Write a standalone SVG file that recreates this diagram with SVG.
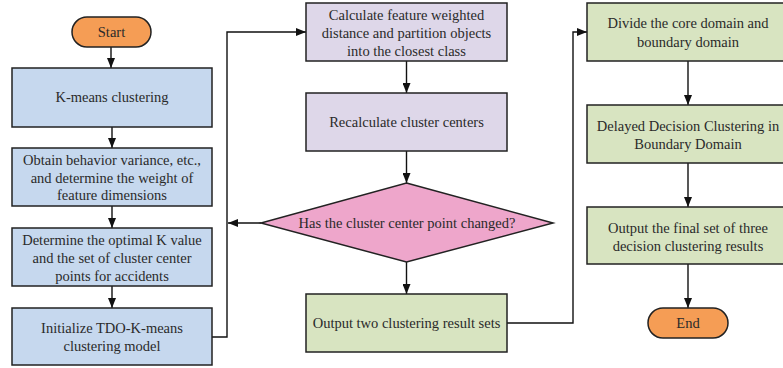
<svg xmlns="http://www.w3.org/2000/svg" width="783" height="368" viewBox="0 0 783 368">
<style>
.box{stroke:#222;stroke-width:1.5}
.blue{fill:#C6D8EE}
.purple{fill:#DED7E9}
.pink{fill:#EEA6CB}
.green{fill:#D8E4C1}
.orange{fill:#F59D55}
.t{font-family:'Liberation Serif','DejaVu Serif',serif;font-size:14.5px;fill:#2a2a2a;text-anchor:middle}
.conn{fill:none;stroke:#111;stroke-width:1.4}
</style>
<defs>
<marker id="arr" markerWidth="10" markerHeight="8" refX="10" refY="4" orient="auto" markerUnits="userSpaceOnUse">
<path d="M0,0 L10,4 L0,8 Z" fill="#111"/>
</marker>
</defs>
<rect width="783" height="368" fill="#fff"/>
<g id="connectors">
<line class="conn" x1="111" y1="47" x2="111" y2="68" marker-end="url(#arr)"/>
<line class="conn" x1="112" y1="127" x2="112" y2="148" marker-end="url(#arr)"/>
<line class="conn" x1="112" y1="206" x2="112" y2="228" marker-end="url(#arr)"/>
<line class="conn" x1="112" y1="286" x2="112" y2="308" marker-end="url(#arr)"/>
<polyline class="conn" points="212,337 227,337 227,32 306,32" marker-end="url(#arr)"/>
<line class="conn" x1="261" y1="223" x2="228" y2="223" marker-end="url(#arr)"/>
<line class="conn" x1="406.5" y1="61" x2="406.5" y2="93" marker-end="url(#arr)"/>
<line class="conn" x1="406.5" y1="151" x2="406.5" y2="183" marker-end="url(#arr)"/>
<line class="conn" x1="406.5" y1="262" x2="406.5" y2="294" marker-end="url(#arr)"/>
<polyline class="conn" points="507,323 573,323 573,32 587,32" marker-end="url(#arr)"/>
<line class="conn" x1="688" y1="61" x2="688" y2="105" marker-end="url(#arr)"/>
<line class="conn" x1="688" y1="163" x2="688" y2="207" marker-end="url(#arr)"/>
<line class="conn" x1="688" y1="264" x2="688" y2="308" marker-end="url(#arr)"/>
</g>
<g class="t">
<g id="start">
<rect class="box orange" x="72" y="17" width="79" height="30" rx="15"/>
<text x="111.5" y="37">Start</text>
</g>
<g id="kmeans">
<rect class="box blue" x="12" y="68" width="200" height="59"/>
<text x="112" y="102">K-means clustering</text>
</g>
<g id="obtain">
<rect class="box blue" x="12" y="148" width="200" height="58"/>
<text x="112" y="165">Obtain behavior variance, etc.,</text>
<text x="112" y="183">and determine the weight of</text>
<text x="112" y="200">feature dimensions</text>
</g>
<g id="determine">
<rect class="box blue" x="12" y="228" width="200" height="58"/>
<text x="112" y="245">Determine the optimal K value</text>
<text x="112" y="263">and the set of cluster center</text>
<text x="112" y="281">points for accidents</text>
</g>
<g id="initialize">
<rect class="box blue" x="12" y="308" width="200" height="57"/>
<text x="112" y="333">Initialize TDO-K-means</text>
<text x="112" y="351">clustering model</text>
</g>
<g id="calculate">
<rect class="box purple" x="306" y="3" width="201" height="58"/>
<text x="406.5" y="20">Calculate feature weighted</text>
<text x="406.5" y="38">distance and partition objects</text>
<text x="406.5" y="56">into the closest class</text>
</g>
<g id="recalculate">
<rect class="box purple" x="306" y="93" width="201" height="58"/>
<text x="406.5" y="127">Recalculate cluster centers</text>
</g>
<g id="decision">
<polygon class="box pink" points="406.5,183 553,223 406.5,262 261,223"/>
<text x="407" y="228">Has the cluster center point changed?</text>
</g>
<g id="output-two">
<rect class="box green" x="306" y="294" width="201" height="58"/>
<text x="406.5" y="328">Output two clustering result sets</text>
</g>
<g id="divide">
<rect class="box green" x="587" y="3" width="202" height="58"/>
<text x="688" y="28">Divide the core domain and</text>
<text x="688" y="47">boundary domain</text>
</g>
<g id="delayed">
<rect class="box green" x="587" y="105" width="202" height="58"/>
<text x="688" y="131">Delayed Decision Clustering in</text>
<text x="688" y="149">Boundary Domain</text>
</g>
<g id="output-final">
<rect class="box green" x="587" y="207" width="202" height="57"/>
<text x="688" y="233">Output the final set of three</text>
<text x="688" y="251">decision clustering results</text>
</g>
<g id="end">
<rect class="box orange" x="648" y="308" width="80" height="30" rx="15"/>
<text x="688" y="328">End</text>
</g>
</g>
</svg>
